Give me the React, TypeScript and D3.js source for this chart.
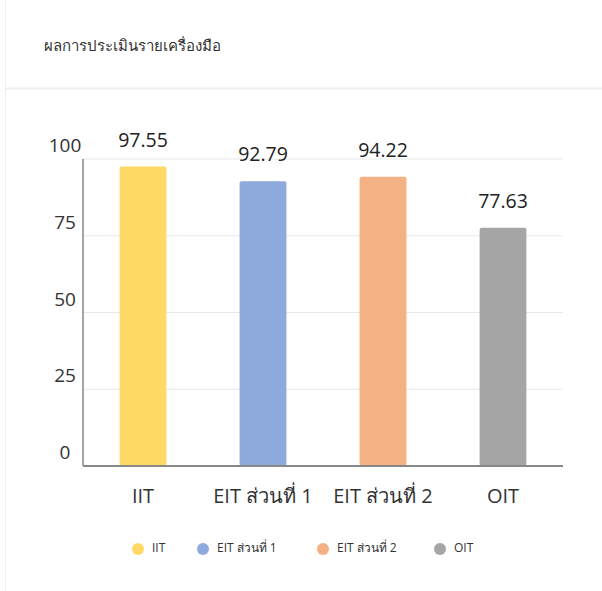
import React from "react";
import * as d3 from "d3";

const WIDTH = 602;
const HEIGHT = 591;
const MARGIN = { top: 159, right: 39, bottom: 125, left: 83 };

const title = "ผลการประเมินรายเครื่องมือ";
const categories = ["IIT", "EIT ส่วนที่ 1", "EIT ส่วนที่ 2", "OIT"];
const scores = [97.55, 92.79, 94.22, 77.63];
const colors = ["#FFD966", "#8EA9DB", "#F4B183", "#A5A5A5"];
const yTicks = [0, 25, 50, 75, 100];

const FONT = "'Open Sans', 'Noto Sans', sans-serif";

export default function App() {
  const boundsWidth = WIDTH - MARGIN.left - MARGIN.right;
  const boundsHeight = HEIGHT - MARGIN.top - MARGIN.bottom;

  const xScale = d3.scaleBand().domain(categories).range([0, boundsWidth]).padding(0);
  const yScale = d3.scaleLinear().domain([0, 100]).range([boundsHeight, 0]);
  const barWidth = xScale.bandwidth() * 0.39;

  // legend positions (circle centers)
  const legendX = d3.scaleOrdinal<string, number>().domain(categories).range([138, 203, 323, 440]);
  const legendY = 549;

  return (
    <svg
      width={WIDTH}
      height={HEIGHT}
      style={{ position: "absolute", left: 0, top: 0, background: "#fff" }}
      fontFamily={FONT}
    >
      {/* card */}
      <rect x={5.5} y={-10} width={WIDTH + 20} height={HEIGHT + 20} fill="#fff" stroke="#eeeeee" />
      <line x1={6} x2={WIDTH} y1={88.5} y2={88.5} stroke="#eeeeee" strokeWidth={2} />
      <text x={44} y={47} dominantBaseline="middle" fontSize={15} fill="#333">
        {title}
      </text>

      <g transform={`translate(${MARGIN.left},${MARGIN.top})`}>
        {/* grid */}
        {yTicks.map((t) => (
          <g key={t}>
            {t > 0 && (
              <line x1={0} x2={boundsWidth} y1={yScale(t)} y2={yScale(t)} stroke="#e8e8e8" strokeWidth={1} />
            )}
            <text
              x={-18}
              y={yScale(t) - 12}
              textAnchor="middle"
              dominantBaseline="middle"
              fontSize={19}
              fill="#333"
            >
              {t}
            </text>
          </g>
        ))}

        {/* bars */}
        {categories.map((c, i) => {
          const cx = (xScale(c) ?? 0) + xScale.bandwidth() / 2;
          const top = yScale(scores[i]);
          return (
            <g key={c}>
              <rect
                x={cx - barWidth / 2}
                y={top}
                width={barWidth}
                height={boundsHeight - top}
                rx={2}
                fill={colors[i]}
              />
              <text
                x={cx}
                y={top - 25}
                textAnchor="middle"
                dominantBaseline="middle"
                fontSize={19.5}
                fontWeight={500}
                fill="#222"
              >
                {scores[i].toFixed(2)}
              </text>
              <text
                x={cx}
                y={boundsHeight + 32}
                textAnchor="middle"
                dominantBaseline="middle"
                fontSize={20}
                fill="#333"
              >
                {c}
              </text>
            </g>
          );
        })}

        {/* axes */}
        <line x1={0} x2={0} y1={0} y2={boundsHeight} stroke="#888" strokeWidth={1.5} />
        <line x1={0} x2={boundsWidth} y1={boundsHeight} y2={boundsHeight} stroke="#888" strokeWidth={2} />
      </g>

      {/* legend */}
      {categories.map((c, i) => (
        <g key={c} transform={`translate(${legendX(c)},${legendY})`}>
          <circle r={6} fill={colors[i]} />
          <text x={14} dominantBaseline="middle" fontSize={12} fill="#333">
            {c}
          </text>
        </g>
      ))}
    </svg>
  );
}
